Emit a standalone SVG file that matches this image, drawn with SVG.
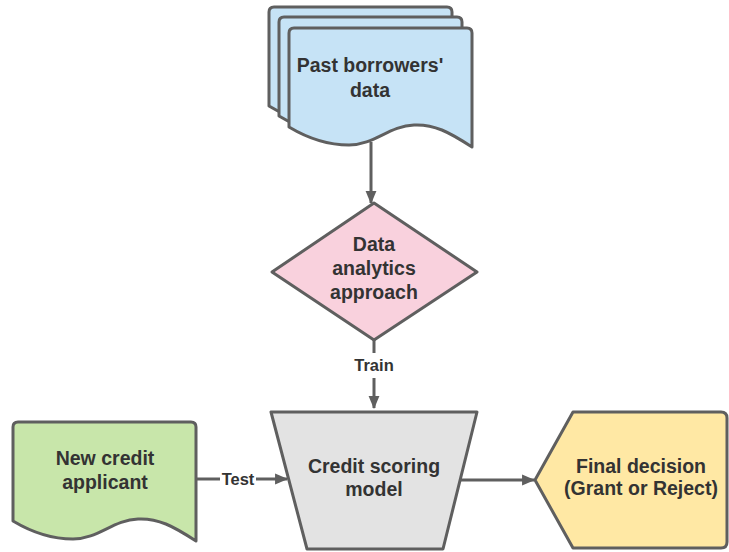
<svg xmlns="http://www.w3.org/2000/svg" width="729" height="552" viewBox="0 0 729 552">
<defs>
<style>
.shape{stroke:#5f5f5f;stroke-width:3;stroke-linejoin:round}
.doc{fill:#c6e3f6}
.lbl{font-family:"Liberation Sans",Arial,sans-serif;font-weight:bold;font-size:19.5px;fill:#333333;text-anchor:middle}
.small{font-size:16.5px}
.conn{stroke:#5f5f5f;stroke-width:3;fill:none}
</style>
<path id="docshape" d="M0,5 Q0,0 5,0 H178 Q183,0 183,5 V119 C160,104 145,96 125,97 C100,98 85,117 60,117 C35,117 15,108 0,99 Z"/>
<marker id="arr" viewBox="0 0 12 12" refX="11" refY="6" markerWidth="13" markerHeight="13" markerUnits="userSpaceOnUse" orient="auto">
<path d="M0,1 L12,6 L0,11 Z" fill="#5f5f5f"/>
</marker>
</defs>
<rect width="729" height="552" fill="#ffffff"/>

<g id="past-data">
<use href="#docshape" x="269" y="7" class="shape doc"/>
<use href="#docshape" x="279" y="17" class="shape doc"/>
<use href="#docshape" x="289" y="28" class="shape doc"/>
<text class="lbl" x="370" y="72">Past borrowers'</text>
<text class="lbl" x="370" y="97">data</text>
</g>

<g id="analytics">
<path class="shape" fill="#f9d1dd" d="M374,203 L477,272 L374,340 L272,272 Z"/>
<text class="lbl" x="374" y="251">Data</text>
<text class="lbl" x="374" y="275">analytics</text>
<text class="lbl" x="374" y="299">approach</text>
</g>

<g id="new-applicant">
<use href="#docshape" x="13" y="422" class="shape" fill="#c8e6aa"/>
<text class="lbl" x="105" y="465">New credit</text>
<text class="lbl" x="105" y="489">applicant</text>
</g>

<g id="scoring-model">
<path class="shape" fill="#e3e3e3" d="M271,412 H477 L443,549 H307 Z"/>
<text class="lbl" x="374" y="473">Credit scoring</text>
<text class="lbl" x="374" y="496">model</text>
</g>

<g id="final-decision">
<path class="shape" fill="#ffe8a4" d="M535,480 L573,412 H721 Q727,412 727,418 V542 Q727,548 721,548 H573 Z"/>
<text class="lbl" x="641" y="473">Final decision</text>
<text class="lbl" x="641" y="495">(Grant or Reject)</text>
</g>

<g id="connectors">
<path class="conn" d="M371,142 V203" marker-end="url(#arr)"/>
<path class="conn" d="M374,340 V353"/>
<path class="conn" d="M374,378 V408" marker-end="url(#arr)"/>
<text class="lbl small" x="374" y="371">Train</text>
<path class="conn" d="M197,479 H220"/>
<path class="conn" d="M256,479 H287" marker-end="url(#arr)"/>
<text class="lbl small" x="238" y="485">Test</text>
<path class="conn" d="M460,480 H534" marker-end="url(#arr)"/>
</g>
</svg>
